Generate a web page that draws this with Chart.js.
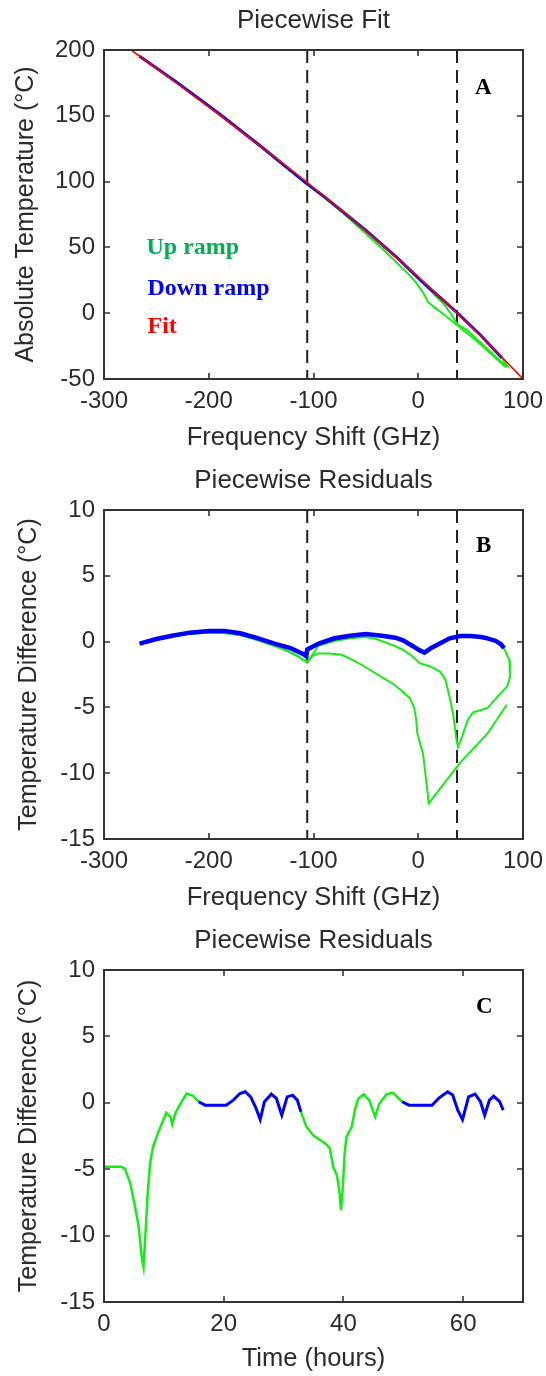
<!DOCTYPE html>
<html><head><meta charset="utf-8">
<script src="https://cdn.jsdelivr.net/npm/chart.js@4.4.1/dist/chart.umd.min.js"></script>
<style>
html,body{margin:0;padding:0;background:#fff;}
body{width:546px;height:1376px;position:relative;overflow:hidden;}
canvas{position:absolute;left:0;}
</style></head><body>
<canvas id="cA" width="546" height="460" style="top:0;width:546px;height:460px"></canvas>
<canvas id="cB" width="546" height="460" style="top:460px;width:546px;height:460px"></canvas>
<canvas id="cC" width="546" height="456" style="top:920px;width:546px;height:456px"></canvas>
<script>
// ---------- data ----------
const breakFreqs = [-106, 37];

// Panel A: absolute temperature vs frequency shift
const aFitFreq = [-274, -230, -190, -150, -107, -71, -35, 1, 37, 60, 80, 100];
const aFitTemp = [200, 174.5, 150.8, 126.5, 100, 76.7, 52.3, 26.9, 0, -17.5, -33.5, -50];
const aDownFreq = [-266, -230, -190, -150, -107, -90, -50, -20, 3, 20, 37, 60, 80];
const aDownTemp = [195.2, 175.2, 151.6, 126.7, 98.8, 88.8, 63.0, 42.0, 24.5, 12.6, 0.4, -17.1, -34.0];
const aUp1Freq = [83.5, 70, 55, 37, 25, 9.5, 7, 5, 3, 0, -3, -10, -20, -35, -50, -71, -90, -107, -150, -190, -230, -266];
const aUp1Temp = [-41.1, -31.2, -20.6, -8.9, -1.3, 8.2, 12.2, 15.2, 17.6, 20.8, 24.1, 30.3, 38.0, 49.5, 60.4, 75.6, 88.0, 98.4, 126.4, 151.3, 175.0, 195.2];
const aUp2Freq = [80, 85, 80, 63, 47, 37, 32.5, 25, 10, 0, -17, -47, -77, -107, -150, -190, -230, -266];
const aUp2Temp = [-34.1, -40.0, -37.4, -24.95, -13.05, -8.2, -1.8, 6.3, 18.3, 26.3, 39.4, 60.9, 80.7, 98.45, 126.4, 151.3, 175.0, 195.2];

// Panel B: residuals vs frequency shift
const bDownFreq = [-266, -250, -235, -218, -200, -185, -170, -155, -138, -122, -110, -107, -106, -95, -80, -65, -50, -35, -22, -15, -5, 1, 6, 12, 21, 30, 40, 50, 60, 66, 74, 79, 82];
const bDownRes  = [-0.15, 0.2, 0.45, 0.68, 0.8, 0.8, 0.63, 0.3, -0.13, -0.5, -0.94, -1.1, -0.6, -0.15, 0.25, 0.45, 0.58, 0.45, 0.3, 0.12, -0.35, -0.65, -0.84, -0.5, -0.13, 0.25, 0.42, 0.42, 0.35, 0.25, 0.05, -0.2, -0.5];
const bUp1Freq = [84.5, 66, 40, 10, 7.5, 4.5, 2, -1, -2, -4, -8, -15, -24, -35, -47, -60, -73, -85, -95, -101, -106, -115, -125, -138, -155, -170, -185, -200, -218, -235, -250, -266];
const bUp1Res  = [-4.8, -7.0, -9.2, -12.3, -10.5, -8.5, -7.8, -6.9, -5.9, -5.0, -4.3, -3.8, -3.2, -2.7, -2.1, -1.5, -1.0, -0.9, -0.9, -1.1, -1.6, -1.1, -0.7, -0.3, 0.15, 0.5, 0.65, 0.7, 0.6, 0.4, 0.15, -0.2];
const bUp2Freq = [82, 87, 87.5, 85, 79, 66, 52, 47, 42, 38, 36, 35, 33, 30.5, 26, 21, 12, 1.5, -5, -15, -25, -40, -50, -65, -80, -95, -106, -115, -125, -138, -155, -170, -185, -200, -218, -235, -250, -266];
const bUp2Res  = [-0.5, -1.4, -2.7, -3.4, -3.9, -5.05, -5.4, -6.0, -7.2, -8.0, -7.2, -6.5, -5.4, -4.4, -2.9, -2.3, -1.9, -1.65, -1.15, -0.6, -0.25, 0.2, 0.35, 0.25, 0.05, -0.3, -1.55, -1.1, -0.7, -0.3, 0.15, 0.5, 0.65, 0.7, 0.6, 0.4, 0.15, -0.2];

// Panel C: residuals vs time
const cUp1Time = [0, 2.9, 3.5, 4.4, 5.2, 5.8, 6.3, 6.6, 6.9, 7.3, 7.7, 8.2, 9.0, 9.9, 10.4, 11.1, 11.4, 11.9, 12.8, 13.8, 14.9, 15.8];
const cUp1Res  = [-4.82, -4.82, -4.95, -6.08, -7.84, -9.35, -11.6, -12.36, -10.1, -6.8, -4.57, -3.3, -2.3, -1.3, -0.75, -1.06, -1.6, -0.8, -0.05, 0.7, 0.53, 0.08];
const cDown1Time = [15.8, 16.9, 20.4, 21.6, 22.7, 23.6, 24.5, 25.3, 26.1, 26.8, 27.96, 28.8, 29.7, 30.6, 31.5, 32.3, 32.9];
const cDown1Res  = [0.08, -0.18, -0.18, 0.2, 0.7, 0.83, 0.45, -0.3, -1.26, 0.08, 0.65, 0.33, -0.93, 0.45, 0.58, 0.2, -0.68];
const cUp2Time = [32.9, 33.8, 34.95, 36.1, 37.0, 37.7, 38.3, 38.9, 39.3, 39.6, 39.9, 40.2, 40.5, 41.4, 41.9, 42.5, 43.4, 44.3, 45.3, 46.0, 47.2, 48.3, 49.8];
const cUp2Res  = [-0.68, -1.8, -2.44, -2.8, -3.07, -3.39, -4.82, -5.45, -6.58, -8.09, -6.33, -3.82, -2.56, -1.8, -0.55, 0.33, 0.65, 0.2, -1.06, -0.05, 0.65, 0.75, 0.08];
const cDown2Time = [49.8, 50.97, 54.8, 55.9, 57.4, 58.25, 59.1, 59.9, 60.9, 62.0, 62.9, 63.6, 64.4, 65.1, 66.1, 66.7];
const cDown2Res  = [0.08, -0.18, -0.18, 0.33, 0.83, 0.58, -0.55, -1.26, 0.45, 0.65, 0.08, -0.93, 0.2, 0.5, 0.08, -0.55];

const freqTicks = { min: -300, max: 100, step: 100 };
const tempTicks = { min: -50, max: 200, step: 50 };
const resTicks = { min: -15, max: 10, step: 5 };
const timeTicks = { min: 0, max: 70, step: 20 };

// ---------- helpers ----------
const SANS = '"Liberation Sans", Arial, sans-serif';
const SERIF = '"Liberation Serif", "DejaVu Serif", serif';
const TXT = '#2b2b2b';
const GREEN = '#14ee14', BLUE = '#0000ff', RED = '#ff0000';
const pts = (xs, ys) => xs.map((v, i) => ({ x: v, y: ys[i] }));
const line = (xs, ys, color, w) => ({ data: pts(xs, ys), borderColor: color, borderWidth: w, showLine: true, pointRadius: 0, tension: 0, fill: false });
const dashed = (xv, r) => ({ data: [{ x: xv, y: r.max }, { x: xv, y: r.min }], borderColor: '#222', borderWidth: 2, borderDash: [13, 7], showLine: true, pointRadius: 0, fill: false });

const framePlugin = {
  id: 'frame',
  afterDatasetsDraw(chart) {
    const { ctx, chartArea: a, scales: { x, y } } = chart;
    ctx.save();
    ctx.strokeStyle = '#333';
    ctx.lineWidth = 2;
    ctx.strokeRect(a.left, a.top, a.right - a.left, a.bottom - a.top);
    ctx.lineWidth = 1.6;
    const L = 6;
    ctx.beginPath();
    x.ticks.forEach(t => {
      const p = Math.round(x.getPixelForValue(t.value));
      ctx.moveTo(p, a.bottom); ctx.lineTo(p, a.bottom - L);
      ctx.moveTo(p, a.top); ctx.lineTo(p, a.top + L);
    });
    y.ticks.forEach(t => {
      const p = Math.round(y.getPixelForValue(t.value));
      ctx.moveTo(a.left, p); ctx.lineTo(a.left + L, p);
      ctx.moveTo(a.right, p); ctx.lineTo(a.right - L, p);
    });
    ctx.stroke();
    ctx.restore();
  }
};
const textPlugin = (items) => ({
  id: 'notes',
  afterDraw(chart) {
    const ctx = chart.ctx;
    ctx.save();
    ctx.textBaseline = 'alphabetic';
    ctx.textAlign = 'left';
    items.forEach(it => { ctx.font = it.font; ctx.fillStyle = it.color; ctx.fillText(it.text, it.x, it.y); });
    ctx.restore();
  }
});

function makeChart(id, cfg) {
  const H = document.getElementById(id).height;
  return new Chart(document.getElementById(id), {
    type: 'scatter',
    data: { datasets: cfg.datasets },
    plugins: [framePlugin, textPlugin(cfg.notes)],
    options: {
      responsive: false, animation: false, devicePixelRatio: 1,
      layout: { padding: { left: 0, right: 23, top: 0, bottom: 0 } },
      plugins: {
        legend: { display: false }, tooltip: { enabled: false },
        title: { display: true, text: cfg.title, fullSize: false, color: TXT,
          font: { family: SANS, size: 26, weight: 'normal' }, padding: { top: 5.5, bottom: 13.3 } }
      },
      scales: {
        x: {
          type: 'linear', position: 'bottom', min: cfg.xr.min, max: cfg.xr.max,
          grid: { display: false, drawTicks: false }, border: { display: false },
          ticks: { stepSize: cfg.xr.step, includeBounds: false, color: TXT, padding: 8, maxRotation: 0,
            font: { family: SANS, size: 24 } },
          title: { display: true, text: cfg.xTitle, color: TXT, font: { family: SANS, size: 25.5 },
            padding: { top: 0, bottom: cfg.xTitlePad } },
          afterFit: s => { s.height = H - cfg.plotBottom; s.paddingLeft = 0; s.paddingRight = 0; }
        },
        y: {
          type: 'linear', position: 'left', min: cfg.yr.min, max: cfg.yr.max,
          grid: { display: false, drawTicks: false }, border: { display: false },
          ticks: { stepSize: cfg.yr.step, color: TXT, padding: 9, font: { family: SANS, size: 24 } },
          title: { display: true, text: cfg.yTitle, color: TXT, font: { family: SANS, size: 25 },
            padding: { top: cfg.yTitlePad, bottom: 0 } },
          afterFit: s => { s.width = 104; s.paddingTop = 0; s.paddingBottom = 0; }
        }
      }
    }
  });
}

makeChart('cA', {
  title: 'Piecewise Fit',
  xTitle: 'Frequency Shift (GHz)', yTitle: 'Absolute Temperature (°C)',
  xr: freqTicks, yr: tempTicks, plotBottom: 379, xTitlePad: 7, yTitlePad: 11,
  datasets: [
    line(aFitFreq, aFitTemp, RED, 1.6),
    line(aDownFreq, aDownTemp, BLUE, 3),
    line(aUp2Freq, aUp2Temp, GREEN, 2),
    line(aUp1Freq, aUp1Temp, GREEN, 2),
    dashed(breakFreqs[0], tempTicks),
    dashed(breakFreqs[1], tempTicks)
  ],
  notes: [
    { text: 'A', x: 475, y: 94, font: 'bold 23px ' + SERIF, color: '#000' },
    { text: 'Up ramp', x: 146.5, y: 254, font: 'bold 24px ' + SERIF, color: '#00b050' },
    { text: 'Down ramp', x: 147.5, y: 295, font: 'bold 24px ' + SERIF, color: '#0000ff' },
    { text: 'Fit', x: 147.5, y: 332.5, font: 'bold 24px ' + SERIF, color: '#ff0000' }
  ]
});

makeChart('cB', {
  title: 'Piecewise Residuals',
  xTitle: 'Frequency Shift (GHz)', yTitle: 'Temperature Difference (°C)',
  xr: freqTicks, yr: resTicks, plotBottom: 379, xTitlePad: 7, yTitlePad: 14.6,
  datasets: [
    line(bDownFreq, bDownRes, BLUE, 4.5),
    line(bUp2Freq, bUp2Res, GREEN, 2),
    line(bUp1Freq, bUp1Res, GREEN, 2),
    dashed(breakFreqs[0], resTicks),
    dashed(breakFreqs[1], resTicks)
  ],
  notes: [
    { text: 'B', x: 476, y: 92, font: 'bold 23px ' + SERIF, color: '#000' }
  ]
});

makeChart('cC', {
  title: 'Piecewise Residuals',
  xTitle: 'Time (hours)', yTitle: 'Temperature Difference (°C)',
  xr: timeTicks, yr: resTicks, plotBottom: 382, xTitlePad: 2, yTitlePad: 14.6,
  datasets: [
    line(cDown1Time, cDown1Res, BLUE, 3),
    line(cDown2Time, cDown2Res, BLUE, 3),
    line(cUp1Time, cUp1Res, GREEN, 2.5),
    line(cUp2Time, cUp2Res, GREEN, 2.5)
  ],
  notes: [
    { text: 'C', x: 476, y: 93, font: 'bold 23px ' + SERIF, color: '#000' }
  ]
});
</script>
</body></html>
